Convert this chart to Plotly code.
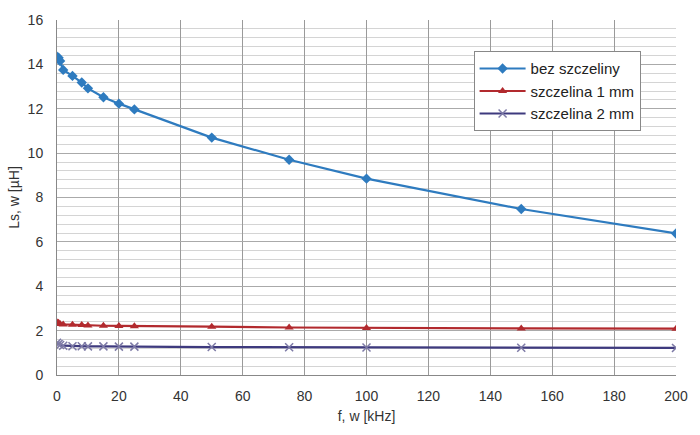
import plotly.graph_objects as go

freq = [0, 0.5, 1, 2, 5, 8, 10, 15, 20, 25, 50, 75, 100, 150, 200]
bez_szczeliny = [14.35, 14.3, 14.15, 13.75, 13.48, 13.18, 12.92, 12.52, 12.23, 11.97, 10.7, 9.7, 8.85, 7.48, 6.38]
szczelina_1mm = [2.38, 2.35, 2.3, 2.28, 2.26, 2.25, 2.23, 2.22, 2.21, 2.2, 2.18, 2.14, 2.12, 2.1, 2.09]
szczelina_2mm = [1.45, 1.4, 1.35, 1.32, 1.3, 1.3, 1.29, 1.29, 1.28, 1.28, 1.26, 1.25, 1.24, 1.23, 1.22]

names = ["bez szczeliny", "szczelina 1 mm", "szczelina 2 mm"]
series = [bez_szczeliny, szczelina_1mm, szczelina_2mm]
colors = ["#2E7BBF", "#B22A2E", "#3E3A7E"]
symbols = ["diamond", "triangle-up", "x-thin"]
sizes = [8, 8, 8]

fig = go.Figure()
for i, (n, s, c, sym, sz) in enumerate(zip(names, series, colors, symbols, sizes)):
    marker = dict(symbol=sym, size=sz, color=c)
    if sym == "x-thin":
        marker = dict(symbol=sym, size=sz, color=c, line=dict(color="#7D7AA6", width=1.5))
    fig.add_trace(go.Scatter(x=freq, y=s, name=n, mode="lines+markers", legendgroup=f"g{i}",
                             line=dict(color=c, width=2.2), marker=marker))

font_fam = "Liberation Sans, Arial, sans-serif"
fig.update_layout(
    width=700, height=435,
    margin=dict(l=57, r=19, t=12, b=60),
    paper_bgcolor="white", plot_bgcolor="white",
    font=dict(family=font_fam, size=14, color="#333333"),
    showlegend=True,
    legend=dict(x=0.673, y=0.912, xanchor="left", yanchor="top",
                bgcolor="white", bordercolor="#888888", borderwidth=1,
                font=dict(size=15, color="#222222"), tracegroupgap=0,
                itemwidth=46),
    xaxis=dict(range=[0, 200], dtick=20, tick0=0, showgrid=True, gridcolor="#9a9a9a",
               gridwidth=1, zeroline=False, showline=True, linecolor="#888888",
               ticks="", ticklabelstandoff=8,
               title=dict(text="f, w [kHz]", standoff=8, font=dict(size=14)),
               tickfont=dict(size=14, color="#333333"), mirror=False),
    yaxis=dict(range=[0, 16], dtick=2, tick0=0, showgrid=True, gridcolor="#aaaaaa",
               gridwidth=1, zeroline=False, showline=True, linecolor="#888888",
               ticks="", ticklabelstandoff=10,
               title=dict(text="Ls, w [µH]", standoff=4, font=dict(size=14)),
               tickfont=dict(size=14, color="#333333"),
               minor=dict(dtick=0.4, showgrid=True, gridcolor="#d4d4d4", gridwidth=1)),
)
fig.write_html("out.html")
